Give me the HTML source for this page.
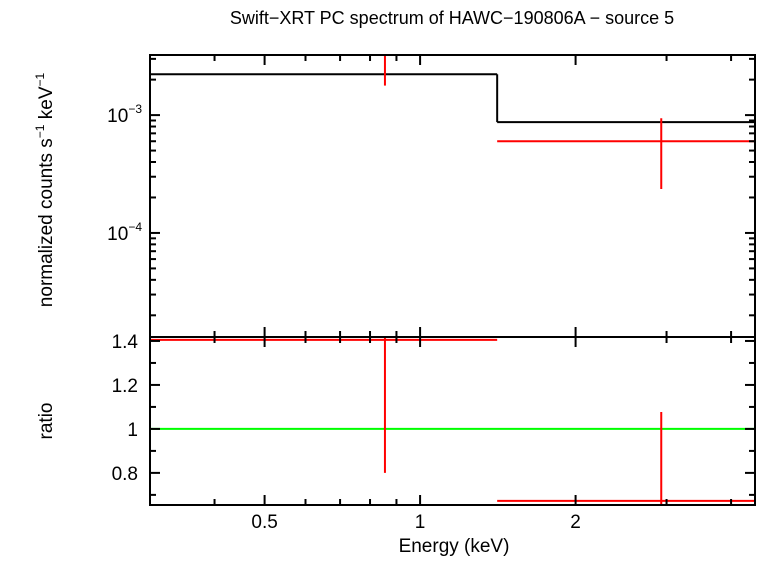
<!DOCTYPE html>
<html><head><meta charset="utf-8"><style>
body{margin:0;background:#fff}
svg text{font-family:"Liberation Sans",sans-serif;fill:#000}
</style></head><body>
<svg id="chart" width="758" height="556" xmlns="http://www.w3.org/2000/svg">
<text x="452" y="24" font-size="18" text-anchor="middle">Swift−XRT PC spectrum of HAWC−190806A − source 5</text>
<g id="top"></g><g id="bot"></g>
<text x="454" y="552" font-size="19" text-anchor="middle">Energy (keV)</text>
<text transform="translate(52,190) rotate(-90)" font-size="19" text-anchor="middle">normalized counts s<tspan font-size="12" dy="-8">−1</tspan><tspan dy="8"> keV</tspan><tspan font-size="12" dy="-8">−1</tspan></text>
<text transform="translate(52,421) rotate(-90)" font-size="19" text-anchor="middle">ratio</text>
</svg>
<script>
const modelBinsLo=[0.3,1.41];
const modelBinsHi=[1.41,4.45];
const modelValues=[2.22e-3,8.72e-4];
const dataE=[0.855,2.93];
const dataLo=[0.3,1.41];
const dataHi=[1.41,4.45];
const dataValues=[3.4e-3,6.0e-4];
const dataErrLo=[1.78e-3,2.36e-4];
const dataErrHi=[4.4e-3,9.4e-4];
const ratioValues=[1.405,0.673];
const ratioErrLo=[0.80,0.27];
const ratioErrHi=[2.0,1.077];
const xTickLabels=["0.5","1","2"];
const xTickVals=[0.5,1,2];
const yTopTickVals=[1e-3,1e-4];
const yTopTickExp=["−3","−4"];
const yBotTickVals=[0.8,1,1.2,1.4];
const yBotTickLabels=["0.8","1","1.2","1.4"];

const NS="http://www.w3.org/2000/svg";
const L=150,R=755,T=55,M=337,B=505;
const xMin=0.3,xMax=4.45;
const X=e=>L+(Math.log10(e)-Math.log10(xMin))/(Math.log10(xMax)-Math.log10(xMin))*(R-L);
const yTopMin=-4.883,yTopMax=-2.49;
const YT=v=>M-(Math.log10(v)-yTopMin)/(yTopMax-yTopMin)*(M-T);
const yBMin=0.654,yBMax=1.418;
const YB=v=>B-(v-yBMin)/(yBMax-yBMin)*(B-M);
const svg=document.getElementById('chart');
function el(tag,at,parent){const e=document.createElementNS(NS,tag);for(const k in at)e.setAttribute(k,at[k]);(parent||svg).appendChild(e);return e;}
function line(x1,y1,x2,y2,c,name,p){const e=el('line',{x1,y1,x2,y2,stroke:c,'stroke-width':2},p);

return e;}
const defs=el('defs',{});
const c1=el('clipPath',{id:'ct'},defs);el('rect',{x:L,y:T,width:R-L,height:M-T},c1);
const c2=el('clipPath',{id:'cb'},defs);el('rect',{x:L,y:M,width:R-L,height:B-M},c2);
const gt=el('g',{'clip-path':'url(#ct)'});
const gb=el('g',{'clip-path':'url(#cb)'});
for(let i=0;i<modelValues.length;i++){
 line(X(modelBinsLo[i]),YT(modelValues[i]),X(modelBinsHi[i]),YT(modelValues[i]),'#000','model-step',gt);
 if(i>0)line(X(modelBinsLo[i]),YT(modelValues[i-1]),X(modelBinsLo[i]),YT(modelValues[i]),'#000','model-step-riser',gt);
}
for(let i=0;i<dataE.length;i++){
 line(X(dataLo[i]),YT(dataValues[i]),X(dataHi[i]),YT(dataValues[i]),'red','data-xerr',gt);
 line(X(dataE[i]),YT(dataErrLo[i]),X(dataE[i]),YT(dataErrHi[i]),'red','data-yerr',gt);
}
line(L,YB(1),R,YB(1),'#0f0','ratio-unity-line',gb);
for(let i=0;i<dataE.length;i++){
 line(X(dataLo[i]),YB(ratioValues[i]),X(dataHi[i]),YB(ratioValues[i]),'red','ratio-xerr',gb);
 line(X(dataE[i]),YB(ratioErrLo[i]),X(dataE[i]),YB(ratioErrHi[i]),'red','ratio-yerr',gb);
}
const f1=el('rect',{x:L,y:T,width:R-L,height:M-T,fill:'none',stroke:'#000','stroke-width':2});

const f2=el('rect',{x:L,y:M,width:R-L,height:B-M,fill:'none',stroke:'#000','stroke-width':2});

const xt=[0.3,0.4,0.5,0.6,0.7,0.8,0.9,1,2,3,4];
xt.forEach(v=>{const maj=xTickVals.includes(v);const len=maj?10:6;const x=X(v);
 [T,M,B].forEach(y=>{ if(y!==T){line(x,y,x,y-len,'#000','x-tick');} if(y!==B){line(x,y,x,y+len,'#000','x-tick');}});
});
xTickVals.forEach((v,i)=>{const t=el('text',{x:X(v),y:528,'font-size':19,'text-anchor':'middle'});t.textContent=xTickLabels[i];

});
for(let d=-5;d<=-3;d++)for(let m=1;m<=9;m++){const v=m*Math.pow(10,d);const y=YT(v);if(y<T||y>M)continue;const len=m===1?10:6;
 line(L,y,L+len,y,'#000','y-top-tick');line(R,y,R-len,y,'#000','y-top-tick');}
yTopTickVals.forEach((v,i)=>{const t=el('text',{x:142,y:YT(v)+7,'font-size':19,'text-anchor':'end'});


t.innerHTML='10<tspan font-size="12" dy="-9">'+yTopTickExp[i]+'</tspan>';});
for(let v=0.7;v<=1.41;v+=0.1){const y=YB(v);const maj=Math.abs((v*10)%2)<0.01||Math.abs((v*10)%2-2)<0.01;const len=maj?10:6;
 line(L,y,L+len,y,'#000','y-bottom-tick');line(R,y,R-len,y,'#000','y-bottom-tick');}
yBotTickVals.forEach((v,i)=>{const t=el('text',{x:138,y:YB(v)+7,'font-size':19,'text-anchor':'end'});t.textContent=yBotTickLabels[i];

});
</script>
</body></html>
